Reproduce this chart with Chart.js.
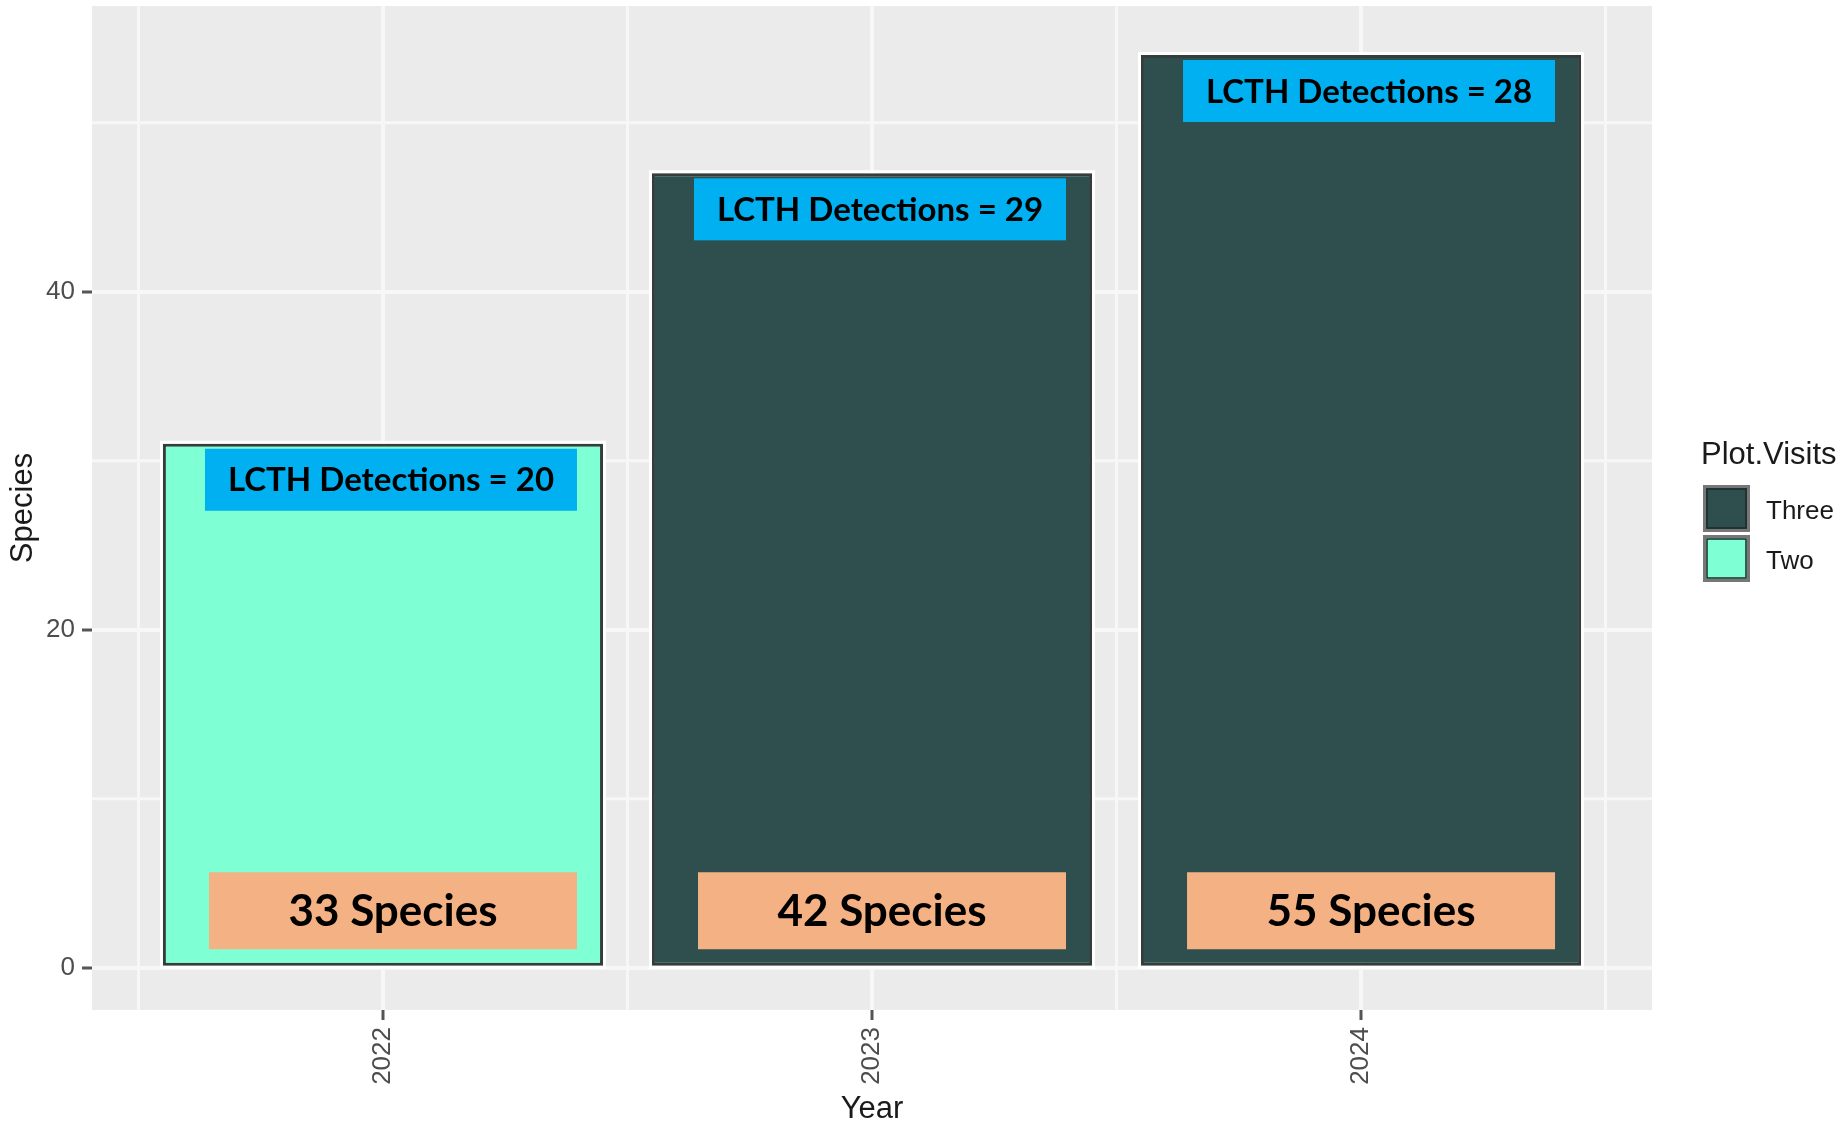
<!DOCTYPE html>
<html>
<head>
<meta charset="utf-8">
<script src="https://cdn.jsdelivr.net/npm/chart.js@4.4.1/dist/chart.umd.min.js"></script>
<style>
  html, body { margin: 0; padding: 0; background: #ffffff; }
  #wrap { width: 1848px; height: 1125px; }
</style>
</head>
<body>
<div id="wrap"><canvas id="chart" width="1848" height="1125"></canvas></div>
<script>
// data
const years = [2022, 2023, 2024];
const speciesBars = [31, 47, 54];
const plotVisits = ["Two", "Three", "Three"];
const lcthDetections = [20, 29, 28];
const speciesCounts = [33, 42, 55];
const yTicks = [0, 20, 40];
const yMinor = [10, 30, 50];
const yLimits = [-2.5, 56.9];
const xMinor = [2021.5, 2022.5, 2023.5, 2024.5];
const visitLevels = ["Three", "Two"];

const visitColors = { Three: "#2f4f4f", Two: "#7fffd4" };
const panelBg = "#ebebeb";
const gridColor = "#f7f7f7";
const tickText = "#4d4d4d";
const axisFont = "Liberation Sans";

// ggplot-like x limits: bars are 0.9 wide, 5% expansion
const xLo = years[0] - 0.45, xHi = years[years.length - 1] + 0.45;
const xPad = (xHi - xLo) * 0.05;

const datasets = visitLevels.map((level) => ({
  label: level,
  data: years
    .map((yr, i) => (plotVisits[i] === level ? { x: yr, y: speciesBars[i] } : null))
    .filter(Boolean),
  backgroundColor: visitColors[level],
  borderColor: "#343d3b",
  borderWidth: 3,
  borderSkipped: false,
  barPercentage: 0.9,
  categoryPercentage: 1.0,
}));

const panelPlugin = {
  id: "panel",
  beforeDraw(chart) {
    const { ctx, chartArea: a, scales } = chart;
    ctx.save();
    ctx.fillStyle = panelBg;
    ctx.fillRect(a.left, a.top, a.right - a.left, a.bottom - a.top);
    ctx.strokeStyle = gridColor;
    ctx.lineWidth = 3;
    yMinor.forEach((v) => {
      const y = scales.y.getPixelForValue(v);
      ctx.beginPath(); ctx.moveTo(a.left, y); ctx.lineTo(a.right, y); ctx.stroke();
    });
    xMinor.forEach((v) => {
      const x = scales.x.getPixelForValue(v);
      ctx.beginPath(); ctx.moveTo(x, a.top); ctx.lineTo(x, a.bottom); ctx.stroke();
    });
    ctx.restore();
  },
  beforeDatasetsDraw(chart) {
    const ctx = chart.ctx;
    ctx.save();
    ctx.strokeStyle = "#ffffff";
    ctx.lineWidth = 3;
    chart.data.datasets.forEach((ds, di) => {
      chart.getDatasetMeta(di).data.forEach((bar) => {
        const { x, y, base, width } = bar.getProps(["x", "y", "base", "width"], true);
        ctx.strokeRect(x - width / 2 - 1.5, y - 1.5, width + 3, base - y + 3);
      });
    });
    ctx.restore();
  },
};

function drawBox(ctx, text, cx, cy, w, h, fill, font) {
  ctx.fillStyle = fill;
  ctx.fillRect(cx - w / 2, cy - h / 2, w, h);
  ctx.fillStyle = "#000000";
  ctx.font = font;
  ctx.textAlign = "center";
  ctx.textBaseline = "middle";
  ctx.fillText(text, cx, cy + 1);
}

const labelPlugin = {
  id: "labels",
  afterDatasetsDraw(chart) {
    const { ctx, scales } = chart;
    ctx.save();
    const zero = scales.y.getPixelForValue(0);
    years.forEach((yr, i) => {
      const cx = scales.x.getPixelForValue(yr);
      const top = scales.y.getPixelForValue(speciesBars[i]) + 5;
      drawBox(ctx, "LCTH Detections = " + lcthDetections[i], cx + 8, top + 31, 372, 62,
        "#00b0f0", "bold 33px Lato");
      drawBox(ctx, speciesCounts[i] + " Species", cx + 10, zero - 19 - 38, 368, 77,
        "#f4b183", "bold 44px Lato");
    });
    ctx.restore();
  },
  afterDraw(chart) {
    // legend, drawn ggplot style to the right of the panel
    const ctx = chart.ctx;
    ctx.save();
    ctx.fillStyle = "#1a1a1a";
    ctx.textAlign = "left";
    ctx.textBaseline = "middle";
    ctx.font = "31px " + axisFont;
    ctx.fillText("Plot.Visits", 1701, 455);
    ctx.font = "26px " + axisFont;
    visitLevels.forEach((level, i) => {
      const top = 485 + i * 50;
      ctx.fillStyle = visitColors[level];
      ctx.fillRect(1703, top, 47, 47);
      ctx.strokeStyle = "#777777";
      ctx.lineWidth = 3;
      ctx.strokeRect(1704.5, top + 1.5, 44, 44);
      ctx.strokeStyle = "#1c2a28";
      ctx.lineWidth = 1.5;
      ctx.strokeRect(1707, top + 4, 39, 39);
      ctx.fillStyle = "#1a1a1a";
      ctx.fillText(level, 1766, top + 27);
    });
    ctx.restore();
  },
};

function noPad(s) {
  s.paddingTop = 0; s.paddingBottom = 0; s.paddingLeft = 0; s.paddingRight = 0;
}

new Chart(document.getElementById("chart"), {
  type: "bar",
  data: { datasets: datasets },
  options: {
    responsive: false,
    animation: false,
    devicePixelRatio: 1,
    layout: { padding: { top: 6, right: 196, left: 0, bottom: 0 } },
    plugins: { legend: { display: false }, tooltip: { enabled: false } },
    scales: {
      x: {
        type: "linear",
        stacked: true,
        offset: false,
        min: xLo - xPad,
        max: xHi + xPad,
        afterBuildTicks: (s) => { s.ticks = years.map((v) => ({ value: v })); },
        afterFit: (s) => { s.height = 115; noPad(s); },
        border: { display: false },
        grid: { offset: false, color: gridColor, lineWidth: 4, tickLength: 10, tickWidth: 3, tickColor: "#555555" },
        ticks: {
          autoSkip: false,
          minRotation: 90,
          maxRotation: 90,
          padding: 7,
          color: tickText,
          font: { family: axisFont, size: 26 },
          callback: (v) => String(v),
        },
        title: {
          display: true,
          text: "Year",
          color: "#1a1a1a",
          font: { family: axisFont, size: 31, lineHeight: 1 },
          padding: { top: 0, bottom: 0 },
        },
      },
      y: {
        stacked: true,
        min: yLimits[0],
        max: yLimits[1],
        afterBuildTicks: (s) => { s.ticks = yTicks.map((v) => ({ value: v })); },
        afterFit: (s) => { s.width = 92; noPad(s); },
        border: { display: false },
        grid: { color: gridColor, lineWidth: 4, tickLength: 10, tickWidth: 3, tickColor: "#555555" },
        ticks: {
          padding: 7,
          color: tickText,
          font: { family: axisFont, size: 26 },
        },
        title: {
          display: true,
          text: "Species",
          color: "#1a1a1a",
          font: { family: axisFont, size: 31, lineHeight: 1 },
          padding: { top: 8, bottom: 0 },
        },
      },
    },
  },
  plugins: [panelPlugin, labelPlugin],
});
</script>
</body>
</html>
